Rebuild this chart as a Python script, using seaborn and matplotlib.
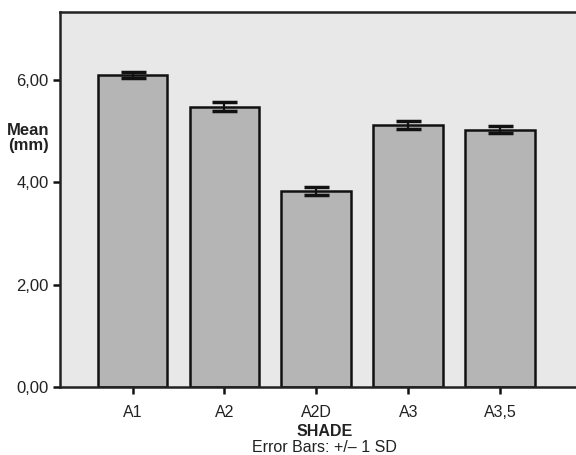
import matplotlib
matplotlib.use("Agg")
import matplotlib.pyplot as plt
import seaborn as sns
import numpy as np

# data
shades = ["A1", "A2", "A2D", "A3", "A3,5"]
means = [6.08, 5.47, 3.83, 5.12, 5.02]
sds = [0.06, 0.085, 0.08, 0.08, 0.065]
yticks = [0, 2, 4, 6]
ytick_labels = ["0,00", "2,00", "4,00", "6,00"]

sns.set_style("ticks")
plt.rcParams["font.family"] = ["Liberation Sans", "DejaVu Sans"]

fig = plt.figure(figsize=(5.76, 4.55), dpi=100)
ax = fig.add_axes([0.104, 0.149, 0.916, 0.825])
ax.set_facecolor("#e8e8e8")

sns.barplot(x=shades, y=means, color="#b5b5b5", saturation=1, width=0.76,
            edgecolor="#111111", linewidth=1.8, ax=ax)
ax.errorbar(np.arange(len(shades)), means, yerr=sds, fmt="none",
            ecolor="#111111", elinewidth=1.6, capsize=9, capthick=2.5)

ax.set_ylim(0, 7.32)
ax.set_xlim(-0.79, 4.95)
ax.set_yticks(yticks)
ax.set_yticklabels(ytick_labels)
ax.tick_params(axis="y", length=5, width=1.8, color="#111111",
               labelsize=12, labelcolor="#222222", pad=3)
ax.tick_params(axis="x", length=5, width=1.8, color="#111111",
               labelsize=11.5, labelcolor="#222222", pad=8)

for s in ["left", "bottom", "top"]:
    ax.spines[s].set_linewidth(1.8)
    ax.spines[s].set_color("#222222")
ax.spines["right"].set_visible(False)

ax.set_xlabel("")
ax.set_ylabel("")
fig.text(0.564, 0.052, "SHADE", fontsize=11.5, fontweight="bold",
         ha="center", va="center", color="#222222")
fig.text(0.049, 0.696, "Mean\n(mm)", fontsize=12, fontweight="bold",
         ha="center", va="center", linespacing=1.0, color="#222222")
fig.text(0.564, 0.016, "Error Bars: +/\u2013 1 SD", fontsize=11.5,
         ha="center", va="center", color="#222222")

fig.savefig("out.png", dpi=100)
